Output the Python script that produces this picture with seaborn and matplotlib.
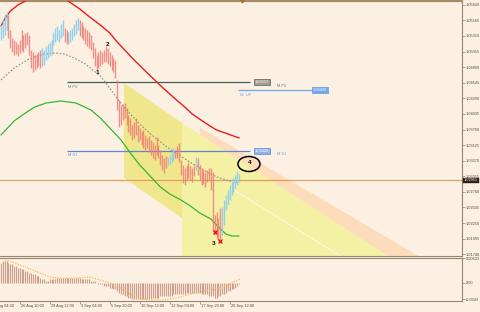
import matplotlib
matplotlib.use("Agg")
import matplotlib.pyplot as plt
import matplotlib.transforms as mtransforms
from matplotlib.patches import Polygon, Ellipse
import numpy as np
import pandas as pd
import seaborn as sns

# ---------------- data (H4 bars) ----------------
bar_high = [1.0549, 1.0557, 1.0567, 1.0570, 1.0565, 1.0541, 1.0528, 1.0524, 1.0521, 1.0518,
            1.0524, 1.0541, 1.0533, 1.0536, 1.0537, 1.0533, 1.0508, 1.0505, 1.0500, 1.0501,
            1.0505, 1.0508, 1.0511, 1.0508, 1.0514, 1.0518, 1.0521, 1.0524, 1.0537, 1.0544,
            1.0547, 1.0541, 1.0550, 1.0557, 1.0544, 1.0541, 1.0537, 1.0541, 1.0544, 1.0550,
            1.0557, 1.0560, 1.0557, 1.0554, 1.0547, 1.0544, 1.0541, 1.0537, 1.0533, 1.0521,
            1.0511, 1.0500, 1.0505, 1.0508, 1.0505, 1.0508, 1.0514, 1.0511, 1.0505, 1.0500,
            1.0495, 1.0492, 1.0459, 1.0426, 1.0418, 1.0420, 1.0421, 1.0413, 1.0402, 1.0397,
            1.0385, 1.0390, 1.0397, 1.0385, 1.0380, 1.0374, 1.0377, 1.0369, 1.0364, 1.0367,
            1.0361, 1.0358, 1.0353, 1.0366, 1.0353, 1.0345, 1.0336, 1.0331, 1.0335, 1.0333,
            1.0336, 1.0341, 1.0348, 1.0345, 1.0351, 1.0356, 1.0328, 1.0320, 1.0315, 1.0320,
            1.0325, 1.0318, 1.0315, 1.0320, 1.0333, 1.0331, 1.0320, 1.0315, 1.0312, 1.0309,
            1.0312, 1.0315, 1.0315, 1.0309, 1.0238, 1.0243, 1.0233, 1.0250, 1.0251, 1.0263,
            1.0271, 1.0279, 1.0287, 1.0292, 1.0299, 1.0304, 1.0310, 1.0305]
bar_low = [1.0524, 1.0528, 1.0533, 1.0541, 1.0528, 1.0511, 1.0505, 1.0500, 1.0501, 1.0498,
           1.0503, 1.0508, 1.0505, 1.0511, 1.0516, 1.0500, 1.0479, 1.0472, 1.0475, 1.0479,
           1.0482, 1.0479, 1.0482, 1.0483, 1.0492, 1.0495, 1.0498, 1.0500, 1.0516, 1.0521,
           1.0524, 1.0521, 1.0528, 1.0531, 1.0521, 1.0518, 1.0518, 1.0521, 1.0524, 1.0531,
           1.0534, 1.0541, 1.0531, 1.0528, 1.0524, 1.0518, 1.0514, 1.0511, 1.0508, 1.0495,
           1.0482, 1.0475, 1.0479, 1.0482, 1.0485, 1.0488, 1.0488, 1.0485, 1.0482, 1.0475,
           1.0472, 1.0462, 1.0410, 1.0382, 1.0385, 1.0394, 1.0397, 1.0385, 1.0374, 1.0369,
           1.0361, 1.0364, 1.0369, 1.0358, 1.0361, 1.0353, 1.0348, 1.0345, 1.0348, 1.0341,
           1.0336, 1.0331, 1.0328, 1.0336, 1.0331, 1.0320, 1.0312, 1.0307, 1.0315, 1.0320,
           1.0322, 1.0325, 1.0328, 1.0331, 1.0331, 1.0325, 1.0304, 1.0291, 1.0287, 1.0295,
           1.0299, 1.0295, 1.0292, 1.0302, 1.0312, 1.0304, 1.0295, 1.0287, 1.0289, 1.0284,
           1.0292, 1.0295, 1.0279, 1.0210, 1.0206, 1.0201, 1.0197, 1.0193, 1.0206, 1.0222,
           1.0246, 1.0256, 1.0263, 1.0271, 1.0276, 1.0282, 1.0287, 1.0292]
bar_dir = ("uuuu" "dddddddddddddddddd" "uuuuuuuuuuuu" "dd" "uuuuuu"
           "dddddddddd" "dddddddddd" "dddddddddd" "dddddddddd" "ddddddd"
           "uuuu" "ddddddddddd" "u" "ddddddddddddd" "uuuuuuuuuu")

# indicator curves (bar index, price)
red_idx = [0, 2, 5, 9, 14, 19, 25, 30, 35, 42, 48, 53, 58, 62, 66, 71, 77, 82, 87, 93, 98, 102, 109, 115, 121, 127]
red_val = [1.05472, 1.05586, 1.05717, 1.05815, 1.05897, 1.05979, 1.06011, 1.05979, 1.05897, 1.05750,
           1.05603, 1.05488, 1.05358, 1.05210, 1.05080, 1.04916, 1.04736, 1.04589, 1.04442, 1.04279,
           1.04148, 1.04034, 1.03886, 1.03772, 1.03707, 1.03642]
green_idx = [0, 3, 7, 13, 18, 24, 32, 40, 48, 53, 58, 64, 69, 74, 80, 85, 90, 96, 101, 106, 112, 114, 117, 120, 123, 127]
green_val = [1.03690, 1.03788, 1.03919, 1.04050, 1.04148, 1.04213, 1.04246, 1.04213, 1.04099, 1.03968,
             1.03805, 1.03609, 1.03396, 1.03200, 1.03004, 1.02840, 1.02726, 1.02628, 1.02530, 1.02415,
             1.02317, 1.02252, 1.02154, 1.02072, 1.02039, 1.02039]
mid_idx = [0, 7, 15, 23, 29, 34, 39, 45, 53, 58, 63, 67, 74, 81, 90, 99, 106, 115, 122, 127]
mid_val = [1.04589, 1.04786, 1.04933, 1.05014, 1.05031, 1.05014, 1.04949, 1.04851, 1.04655, 1.04459,
           1.04246, 1.04099, 1.03870, 1.03674, 1.03461, 1.03282, 1.03151, 1.03004, 1.02938, 1.02906]

# OsMA-like histogram and its signal
osma = [0.0052, 0.0057, 0.0057, 0.0055, 0.0052, 0.0049, 0.0047, 0.0044,
        0.0042, 0.0039, 0.0039, 0.0036, 0.0034, 0.0031, 0.0029, 0.0026,
        0.0026, 0.0023, 0.0021, 0.0018, 0.0016, 0.0013, 0.0010, 0.0008,
        0.0005, 0.0005, 0.0008, 0.0010, 0.0010, 0.0010, 0.0013, 0.0013,
        0.0013, 0.0013, 0.0013, 0.0013, 0.0013, 0.0013, 0.0013, 0.0013,
        0.0013, 0.0013, 0.0013, 0.0010, 0.0010, 0.0008, 0.0008, 0.0008,
        0.0005, 0.0005, 0.0003, 0.0000, -0.0003, -0.0003, -0.0005, -0.0008,
        -0.0008, -0.0010, -0.0013, -0.0013, -0.0016, -0.0018, -0.0021, -0.0026,
        -0.0029, -0.0031, -0.0034, -0.0036, -0.0039, -0.0039, -0.0042, -0.0042,
        -0.0044, -0.0044, -0.0044, -0.0044, -0.0042, -0.0042, -0.0042, -0.0042,
        -0.0042, -0.0039, -0.0039, -0.0039, -0.0039, -0.0036, -0.0036, -0.0036,
        -0.0036, -0.0034, -0.0034, -0.0034, -0.0031, -0.0031, -0.0031, -0.0029,
        -0.0029, -0.0029, -0.0029, -0.0026, -0.0026, -0.0026, -0.0026, -0.0026,
        -0.0026, -0.0026, -0.0026, -0.0029, -0.0029, -0.0031, -0.0031, -0.0034,
        -0.0034, -0.0036, -0.0039, -0.0039, -0.0036, -0.0034, -0.0031, -0.0029,
        -0.0026, -0.0023, -0.0021, -0.0018, -0.0016, -0.0013, -0.0008, -0.0005]
sig_idx = [2.1, 4.8, 10.1, 15.5, 20.8, 26.1, 31.5, 39.5, 47.5, 52.8, 58.1, 63.5, 68.8, 74.1,
           79.5, 87.5, 95.5, 103.5, 111.5, 116.8, 122.1, 127.5]
sig_val = [0.00585, 0.00559, 0.00455, 0.00351, 0.00247, 0.00143, 0.00117, 0.00117, 0.00143, 0.00065,
           -0.00013, -0.00143, -0.00299, -0.00429, -0.00455, -0.00455, -0.00377, -0.00273, -0.00195,
           -0.00169, -0.00039, 0.00091]

# levels
mpv_price, mpv_label = 1.04553, "1.04553"
ms1_price, ms1_label = 1.03429, "1.03429"
wup_price, wup_label = 1.04426, "1.04426"
last_price, last_label = 1.02951, "1.02951"

price_ticks = [1.05820, 1.05565, 1.05310, 1.05055, 1.04800, 1.04545, 1.04290, 1.04035, 1.03780,
               1.03525, 1.03270, 1.03015, 1.02760, 1.02505, 1.02250, 1.01995, 1.01740]
price_tick_labels = ["1.05820", "1.05565", "1.05310", "1.05055", "1.04800", "1.04545", "1.04290",
                     "1.04035", "1.03780", "1.03525", "1.03270", "1.03015", "1.02760", "1.02505",
                     "1.02250", "1.01995", "1.01740"]
ind_ticks = [0.00633, 0.0, -0.0043]
ind_tick_labels = ["0.00633", "0.00", "-0.0043"]
date_idx = [-6, 10, 26, 42, 58, 74, 90, 106, 122]
date_labels = ["22 Aug 04:00", "26 Aug 20:00", "29 Aug 12:00", "3 Sep 04:00", "5 Sep 20:00",
               "10 Sep 12:00", "13 Sep 04:00", "17 Sep 20:00", "20 Sep 12:00"]

# ---------------- style ----------------
sns.set_theme(style="white")
plt.rcParams['font.family'] = ['Liberation Sans', 'DejaVu Sans']

BG = '#FCF0E3'
FRAME = '#968571'
TXT = '#5B4A39'
UPC = '#8ED0EA'
DNC = '#F07A76'
FS = 2.8

fig = plt.figure(figsize=(4.8, 3.12), dpi=100, facecolor=BG)
ax = fig.add_axes([0, 56 / 312, 462 / 480, 255 / 312], facecolor=BG)
axi = fig.add_axes([0, 11 / 312, 462 / 480, 43 / 312], facecolor=BG)

XL = (-0.53, 245.9)
ax.set_xlim(*XL)
axi.set_xlim(*XL)
ax.set_ylim(1.01712, 1.05881)
axi.set_ylim(-0.00481, 0.00637)


def px2i(xp):
    return (xp - 1) / 1.875


def py2p(yp):
    return 1.05897 - 0.00016346 * yp


# ---- channels (background fills) ----
chanA = [(px2i(124), py2p(83)), (px2i(182), py2p(123)), (px2i(182), py2p(218)), (px2i(124), py2p(178))]
ax.add_patch(Polygon(chanA, closed=True, fc='#F0E68C', ec='none', zorder=1))
xr = 470
chanB = [(px2i(182), py2p(123)), (px2i(xr), py2p(123 + 0.646 * (xr - 182))),
         (px2i(xr), py2p(500)), (px2i(182), py2p(400))]
ax.add_patch(Polygon(chanB, closed=True, fc='#F4F0A4', ec='none', zorder=0.9))
peach = [(px2i(200), py2p(151 + 0.588 * (200 - 240))), (px2i(xr), py2p(151 + 0.588 * (xr - 240))),
         (px2i(xr), py2p(123 + 0.646 * (xr - 182))), (px2i(200), py2p(123 + 0.646 * (200 - 182)))]
ax.add_patch(Polygon(peach, closed=True, fc='#FDDCBC', ec='none', zorder=0.9))
ax.plot([px2i(235), px2i(345)], [py2p(190.7), py2p(258.9)], color='white', lw=0.6, alpha=0.8, zorder=1.2)

# ---- level lines ----
ax.hlines(mpv_price, px2i(67), px2i(250), color='#3D5F5F', lw=0.9, zorder=2)
ax.hlines(ms1_price, px2i(67), px2i(250), color='#5E86D6', lw=0.9, zorder=2)
ax.hlines(wup_price, px2i(238), px2i(312), color='#6BA6EE', lw=0.9, zorder=2)
ax.axhline(last_price, color='#D9A460', lw=0.9, zorder=2)

ax.text(px2i(68), py2p(86.5), "M PV", fontsize=FS, color='#6C7F88', ha='left', va='center', zorder=5)
ax.text(px2i(68), py2p(155.5), "M S1", fontsize=FS, color='#6F8FD6', ha='left', va='center', zorder=5)
ax.text(px2i(240), py2p(94.5), "W  UP", fontsize=FS, color='#6BA6EE', ha='left', va='center', zorder=5)
ax.text(px2i(255), mpv_price, mpv_label, fontsize=FS, color='white', ha='left', va='center', zorder=5,
        bbox=dict(boxstyle='square,pad=0.2', fc='#A39C8E', ec='#5E5E5E', lw=0.5))
ax.text(px2i(277), py2p(85.5), "M PV", fontsize=FS, color='#7A7A7A', ha='left', va='center', zorder=5)
ax.text(px2i(255), ms1_price, ms1_label, fontsize=FS, color='white', ha='left', va='center', zorder=5,
        bbox=dict(boxstyle='square,pad=0.2', fc='#93B2EA', ec='#5E86D6', lw=0.5))
ax.text(px2i(277), py2p(154.5), "M S1", fontsize=FS, color='#7A9AD8', ha='left', va='center', zorder=5)
ax.text(px2i(313), wup_price, wup_label, fontsize=FS, color='white', ha='left', va='center', zorder=5,
        bbox=dict(boxstyle='square,pad=0.2', fc='#72A8EE', ec='#5E9BE8', lw=0.5))

# ---- indicator curves ----
sns.lineplot(x=red_idx, y=red_val, ax=ax, color='#EE1C1C', lw=1.0, zorder=3)
sns.lineplot(x=green_idx, y=green_val, ax=ax, color='#33B833', lw=0.9, zorder=3)
sns.lineplot(x=mid_idx, y=mid_val, ax=ax, color='#909090', lw=0.8, linestyle=(0, (1.5, 1.5)), zorder=3)

# ---- price bars ----
xb = np.arange(len(bar_high))
hi = np.array(bar_high)
lo = np.array(bar_low)
up = np.array([c == 'u' for c in bar_dir])
ax.vlines(xb[up], lo[up], hi[up], color=UPC, lw=1.0, alpha=0.95, zorder=4)
ax.vlines(xb[~up], lo[~up], hi[~up], color=DNC, lw=1.0, alpha=0.82, zorder=4)

# ---- annotations ----
ax.text(px2i(97), py2p(72), "1", fontsize=4.6, fontweight='bold', color='#111111', ha='center', va='center', zorder=6)
ax.text(px2i(108), py2p(44), "2", fontsize=4.6, fontweight='bold', color='#111111', ha='center', va='center', zorder=6)
ax.text(px2i(214), py2p(244), "3", fontsize=4.6, fontweight='bold', color='#111111', ha='center', va='center', zorder=6)
ax.add_patch(Ellipse((px2i(249), py2p(164)), width=22 / 1.875, height=15 * 0.00016346,
                     fill=False, ec='black', lw=1.1, zorder=6))
ax.text(px2i(250), py2p(162.5), "4", fontsize=4.6, fontweight='bold', color='#111111', ha='center', va='center', zorder=6)
ax.plot([px2i(215), px2i(220)], [py2p(232), py2p(241)], ls='none', marker='x', ms=2.6, mew=0.9,
        color='#E01010', zorder=6)
ax.plot([px2i(242)], [1.05881], marker='v', ms=2.2, color='#A8742E', clip_on=False, zorder=7)

# ---- indicator pane ----
axi.vlines(xb, 0, osma, color='#CFA08F', lw=0.85, zorder=2)
sns.lineplot(x=sig_idx, y=sig_val, ax=axi, color='#F0BE4A', lw=0.8, linestyle=(0, (1.2, 1.2)), zorder=3)

# ---- axes decoration ----
for a in (ax, axi):
    a.spines['left'].set_visible(False)
    for s in ('top', 'right', 'bottom'):
        a.spines[s].set_color(FRAME)
        a.spines[s].set_linewidth(0.8)
    a.set_xlabel('')
    a.set_ylabel('')
ax.spines['top'].set_linewidth(1.6)
ax.spines['top'].set_color('#A88C68')

ax.set_xticks([])
ax.set_yticks(price_ticks)
ax.set_yticklabels(price_tick_labels)
ax.tick_params(axis='y', left=False, labelleft=False, right=True, labelright=True, length=2,
               width=0.5, color=FRAME, labelsize=FS, labelcolor=TXT, pad=1)

axi.set_yticks(ind_ticks)
axi.set_yticklabels(ind_tick_labels)
axi.tick_params(axis='y', left=False, labelleft=False, right=True, labelright=True, length=2,
                width=0.5, color=FRAME, labelsize=FS, labelcolor=TXT, pad=1)
axi.set_xticks([d for d in date_idx if d >= XL[0]])
axi.tick_params(axis='x', bottom=True, labelbottom=False, length=2, width=0.5, color=FRAME, direction='out')

tr = mtransforms.blended_transform_factory(axi.transData, axi.transAxes)
for d, lab in zip(date_idx, date_labels):
    axi.text(d + 0.6, -0.12, lab, transform=tr, fontsize=FS, color=TXT, ha='left', va='center', clip_on=False)

trp = mtransforms.blended_transform_factory(ax.transAxes, ax.transData)
ax.text(1.004, last_price, last_label, transform=trp, fontsize=FS, color='white', ha='left', va='center',
        clip_on=False, zorder=8, bbox=dict(boxstyle='square,pad=0.15', fc='#2B2118', ec='#2B2118', lw=0.3))

fig.savefig('out.png', dpi=100, facecolor=BG)
